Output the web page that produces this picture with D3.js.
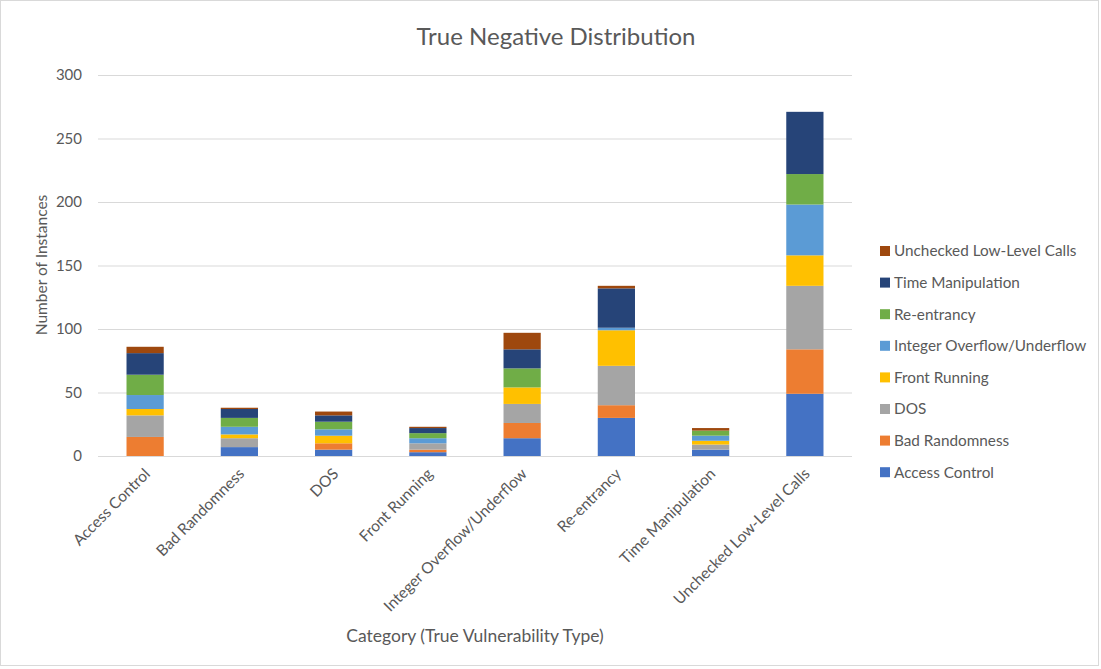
<!DOCTYPE html>
<html>
<head>
<meta charset="utf-8">
<script src="https://cdn.jsdelivr.net/npm/d3@7"></script>
<style>
  html, body { margin: 0; padding: 0; background: #fff; }
  svg { display: block; font-family: Lato, "Open Sans", sans-serif; }
</style>
</head>
<body>
<svg id="chart" width="1101" height="669"></svg>
<script>
// Categories: true vulnerability type of each sample
const categories = [
  "Access Control", "Bad Randomness", "DOS", "Front Running",
  "Integer Overflow/Underflow", "Re-entrancy", "Time Manipulation",
  "Unchecked Low-Level Calls"
];

// Stacked series (bottom to top), one value per category
const seriesNames = [
  "Access Control", "Bad Randomness", "DOS", "Front Running",
  "Integer Overflow/Underflow", "Re-entrancy", "Time Manipulation",
  "Unchecked Low-Level Calls"
];
const accessControl     = [0, 7, 5, 3, 14, 30, 5, 49];
const badRandomness     = [15, 0, 5, 2, 12, 10, 0, 35];
const dos               = [17, 7, 0, 5, 15, 31, 4, 50];
const frontRunning      = [5, 3, 6, 0, 13, 28, 3, 24];
const integerOverflow   = [11, 6, 5, 4, 0, 2, 4, 40];
const reentrancy        = [16, 7, 6, 4, 15, 0, 4, 24];
const timeManipulation  = [17, 7, 5, 4, 15, 31, 0, 49];
const uncheckedCalls    = [5, 1, 3, 1, 13, 2, 2, 0];

const yTicks = [0, 50, 100, 150, 200, 250, 300];

const seriesValues = [accessControl, badRandomness, dos, frontRunning,
  integerOverflow, reentrancy, timeManipulation, uncheckedCalls];
const colors = ["#4472C4", "#ED7D31", "#A5A5A5", "#FFC000",
  "#5B9BD5", "#70AD47", "#264478", "#9E480E"];

const svg = d3.select("#chart");
const W = 1101, H = 669;
const margin = { left: 98, right: 249, top: 75, bottom: 213 };
const plotW = W - margin.left - margin.right;
const plotH = H - margin.top - margin.bottom;
const textColor = "#595959";

// outer frame
svg.append("rect").attr("x", 0.5).attr("y", 0.5).attr("width", W - 3).attr("height", H - 4)
  .attr("fill", "#fff").attr("stroke", "#d9d9d9").attr("stroke-width", 1);

const rows = categories.map((c, i) => {
  const r = { category: c };
  seriesNames.forEach((s, j) => r[s] = seriesValues[j][i]);
  return r;
});
const stacked = d3.stack().keys(seriesNames)(rows);

const x = d3.scaleBand().domain(categories).range([0, plotW]).paddingInner(0.605).paddingOuter(0.3025);
const y = d3.scaleLinear().domain([0, 300]).range([plotH, 0]);
const color = d3.scaleOrdinal().domain(seriesNames).range(colors);

const g = svg.append("g").attr("transform", `translate(${margin.left},${margin.top})`);

// gridlines
g.append("g").selectAll("line").data(yTicks).join("line")
  .attr("x1", 0).attr("x2", plotW)
  .attr("y1", d => y(d) + 0.5).attr("y2", d => y(d) + 0.5)
  .attr("stroke", "#d9d9d9").attr("stroke-width", 1);

// y axis labels
const yAxis = d3.axisLeft(y).tickValues(yTicks).tickSize(0).tickPadding(16);
g.append("g").call(yAxis)
  .call(a => a.select(".domain").remove())
  .selectAll("text").attr("fill", textColor).attr("font-size", "15px")
  .attr("font-family", "Lato, sans-serif");

// stacked bars
g.append("g").selectAll("g").data(stacked).join("g")
  .attr("fill", d => color(d.key))
  .selectAll("rect").data(d => d).join("rect")
  .attr("x", d => x(d.data.category))
  .attr("width", x.bandwidth())
  .attr("y", d => y(d[1]))
  .attr("height", d => y(d[0]) - y(d[1]));

// x axis labels, rotated
const xAxis = d3.axisBottom(x).tickSize(0).tickPadding(0);
g.append("g").attr("transform", `translate(0,${plotH})`).call(xAxis)
  .call(a => a.select(".domain").remove())
  .selectAll("text")
  .attr("fill", textColor).attr("font-size", "15.5px").attr("font-family", "Lato, sans-serif")
  .attr("text-anchor", "end")
  .attr("dy", "0.35em")
  .attr("transform", "translate(2,15) rotate(-45)");

// title
svg.append("text").attr("x", 556).attr("y", 45).attr("text-anchor", "middle")
  .attr("fill", textColor).attr("font-size", "24px").text("True Negative Distribution");

// axis titles
svg.append("text").attr("transform", "translate(47,265) rotate(-90)").attr("text-anchor", "middle")
  .attr("fill", textColor).attr("font-size", "15.5px").text("Number of Instances");
svg.append("text").attr("x", 475).attr("y", 642).attr("text-anchor", "middle")
  .attr("fill", textColor).attr("font-size", "17.5px").text("Category (True Vulnerability Type)");

// legend, top entry is the last series
const legend = svg.append("g").attr("transform", "translate(880,251)");
const items = legend.selectAll("g").data(seriesNames.slice().reverse()).join("g")
  .attr("transform", (d, i) => `translate(0,${i * 31.6})`);
items.append("rect").attr("x", 0).attr("y", -5).attr("width", 10).attr("height", 10)
  .attr("fill", d => color(d));
items.append("text").attr("x", 14).attr("y", 0).attr("dy", "0.35em")
  .attr("fill", textColor).attr("font-size", "15.3px").text(d => d);
</script>
</body>
</html>
